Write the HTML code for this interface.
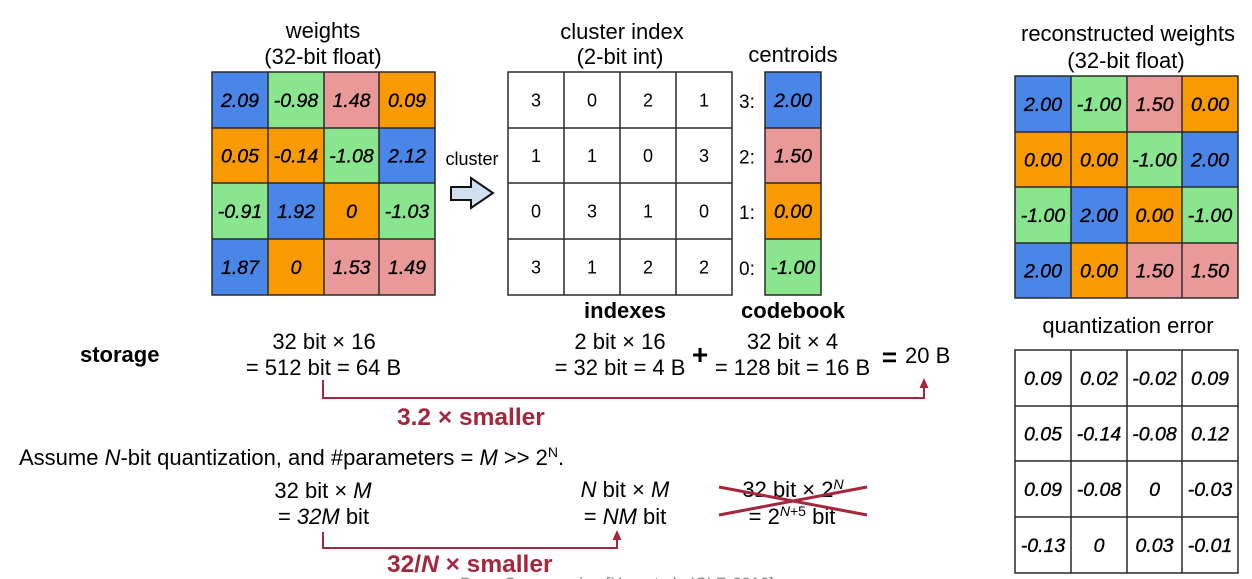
<!DOCTYPE html>
<html><head><meta charset="utf-8"><style>
html,body{margin:0;padding:0;background:#fff;}
svg{display:block;font-family:"Liberation Sans",Arial,sans-serif;}
.t{font-size:22px;fill:#000;}
.c{font-size:19.5px;font-style:italic;fill:#000;stroke:#000;stroke-width:0.35px;text-anchor:middle;}
.i{font-size:18px;fill:#000;text-anchor:middle;}
.m{text-anchor:middle;}
.b{font-weight:bold;}
.r{fill:#a3273d;}
.g{fill:none;stroke:#2a2a2a;stroke-width:1.5;}
</style></head><body>
<svg width="1252" height="579" viewBox="0 0 1252 579" xmlns="http://www.w3.org/2000/svg">
<!-- titles -->
<text class="t m" x="323" y="38">weights</text>
<text class="t m" x="323" y="64">(32-bit float)</text>
<text class="t m" x="622" y="39">cluster index</text>
<text class="t m" x="620" y="64">(2-bit int)</text>
<text class="t m" x="793" y="62">centroids</text>
<text class="t m" x="1128" y="41">reconstructed weights</text>
<text class="t m" x="1126" y="68">(32-bit float)</text>
<text class="t m" x="1128" y="333">quantization error</text>

<!-- weights grid -->
<g>
<rect x="212" y="72" width="56" height="56" fill="#4a86e8"/><rect x="268" y="72" width="56" height="56" fill="#8ae68e"/><rect x="324" y="72" width="55" height="56" fill="#ea9999"/><rect x="379" y="72" width="56" height="56" fill="#f99b00"/>
<rect x="212" y="128" width="56" height="55" fill="#f99b00"/><rect x="268" y="128" width="56" height="55" fill="#f99b00"/><rect x="324" y="128" width="55" height="55" fill="#8ae68e"/><rect x="379" y="128" width="56" height="55" fill="#4a86e8"/>
<rect x="212" y="183" width="56" height="56" fill="#8ae68e"/><rect x="268" y="183" width="56" height="56" fill="#4a86e8"/><rect x="324" y="183" width="55" height="56" fill="#f99b00"/><rect x="379" y="183" width="56" height="56" fill="#8ae68e"/>
<rect x="212" y="239" width="56" height="56" fill="#4a86e8"/><rect x="268" y="239" width="56" height="56" fill="#f99b00"/><rect x="324" y="239" width="55" height="56" fill="#ea9999"/><rect x="379" y="239" width="56" height="56" fill="#ea9999"/>
<path class="g" d="M212 72H435V295H212Z M268 72V295 M324 72V295 M379 72V295 M212 128H435 M212 183H435 M212 239H435"/>
<text class="c" x="240" y="107">2.09</text><text class="c" x="296" y="107">-0.98</text><text class="c" x="351.5" y="107">1.48</text><text class="c" x="407" y="107">0.09</text>
<text class="c" x="240" y="162.5">0.05</text><text class="c" x="296" y="162.5">-0.14</text><text class="c" x="351.5" y="162.5">-1.08</text><text class="c" x="407" y="162.5">2.12</text>
<text class="c" x="240" y="218">-0.91</text><text class="c" x="296" y="218">1.92</text><text class="c" x="351.5" y="218">0</text><text class="c" x="407" y="218">-1.03</text>
<text class="c" x="240" y="274">1.87</text><text class="c" x="296" y="274">0</text><text class="c" x="351.5" y="274">1.53</text><text class="c" x="407" y="274">1.49</text>
</g>

<!-- cluster arrow -->
<text x="472" y="165" style="font-size:18px;text-anchor:middle">cluster</text>
<polygon points="451,187 471,187 471,178 493,193 471,208 471,200 451,200" fill="#d0e0f0" stroke="#111" stroke-width="2" stroke-linejoin="miter"/>

<!-- cluster index grid -->
<path class="g" d="M508 72H732V295H508Z M564 72V295 M620 72V295 M676 72V295 M508 128H732 M508 183H732 M508 239H732"/>
<text class="i" x="536" y="106.5">3</text><text class="i" x="592" y="106.5">0</text><text class="i" x="648" y="106.5">2</text><text class="i" x="704" y="106.5">1</text>
<text class="i" x="536" y="162">1</text><text class="i" x="592" y="162">1</text><text class="i" x="648" y="162">0</text><text class="i" x="704" y="162">3</text>
<text class="i" x="536" y="217.5">0</text><text class="i" x="592" y="217.5">3</text><text class="i" x="648" y="217.5">1</text><text class="i" x="704" y="217.5">0</text>
<text class="i" x="536" y="273.5">3</text><text class="i" x="592" y="273.5">1</text><text class="i" x="648" y="273.5">2</text><text class="i" x="704" y="273.5">2</text>

<!-- centroids -->
<rect x="765" y="72" width="56" height="56" fill="#4a86e8"/>
<rect x="765" y="128" width="56" height="55" fill="#ea9999"/>
<rect x="765" y="183" width="56" height="56" fill="#f99b00"/>
<rect x="765" y="239" width="56" height="56" fill="#8ae68e"/>
<path class="g" d="M765 72H821V295H765Z M765 128H821 M765 183H821 M765 239H821"/>
<text class="c" x="793" y="107">2.00</text>
<text class="c" x="793" y="162.5">1.50</text>
<text class="c" x="793" y="218">0.00</text>
<text class="c" x="793" y="274">-1.00</text>
<text x="739" y="108" style="font-size:19px">3:</text>
<text x="739" y="163.5" style="font-size:19px">2:</text>
<text x="739" y="219" style="font-size:19px">1:</text>
<text x="739" y="275" style="font-size:19px">0:</text>

<text class="t m b" x="625" y="318">indexes</text>
<text class="t m b" x="793" y="318">codebook</text>

<!-- reconstructed grid -->
<g>
<rect x="1015" y="76" width="56" height="56" fill="#4a86e8"/><rect x="1071" y="76" width="56" height="56" fill="#8ae68e"/><rect x="1127" y="76" width="55" height="56" fill="#ea9999"/><rect x="1182" y="76" width="56" height="56" fill="#f99b00"/>
<rect x="1015" y="132" width="56" height="55" fill="#f99b00"/><rect x="1071" y="132" width="56" height="55" fill="#f99b00"/><rect x="1127" y="132" width="55" height="55" fill="#8ae68e"/><rect x="1182" y="132" width="56" height="55" fill="#4a86e8"/>
<rect x="1015" y="187" width="56" height="56" fill="#8ae68e"/><rect x="1071" y="187" width="56" height="56" fill="#4a86e8"/><rect x="1127" y="187" width="55" height="56" fill="#f99b00"/><rect x="1182" y="187" width="56" height="56" fill="#8ae68e"/>
<rect x="1015" y="243" width="56" height="55" fill="#4a86e8"/><rect x="1071" y="243" width="56" height="55" fill="#f99b00"/><rect x="1127" y="243" width="55" height="55" fill="#ea9999"/><rect x="1182" y="243" width="56" height="55" fill="#ea9999"/>
<path class="g" d="M1015 76H1238V298H1015Z M1071 76V298 M1127 76V298 M1182 76V298 M1015 132H1238 M1015 187H1238 M1015 243H1238"/>
<text class="c" x="1043" y="111">2.00</text><text class="c" x="1099" y="111">-1.00</text><text class="c" x="1154.5" y="111">1.50</text><text class="c" x="1210" y="111">0.00</text>
<text class="c" x="1043" y="166.5">0.00</text><text class="c" x="1099" y="166.5">0.00</text><text class="c" x="1154.5" y="166.5">-1.00</text><text class="c" x="1210" y="166.5">2.00</text>
<text class="c" x="1043" y="222">-1.00</text><text class="c" x="1099" y="222">2.00</text><text class="c" x="1154.5" y="222">0.00</text><text class="c" x="1210" y="222">-1.00</text>
<text class="c" x="1043" y="277.5">2.00</text><text class="c" x="1099" y="277.5">0.00</text><text class="c" x="1154.5" y="277.5">1.50</text><text class="c" x="1210" y="277.5">1.50</text>
</g>

<!-- quantization error grid -->
<path class="g" d="M1015 350H1238V573H1015Z M1071 350V573 M1127 350V573 M1182 350V573 M1015 406H1238 M1015 461H1238 M1015 517H1238"/>
<text class="c" x="1043" y="385">0.09</text><text class="c" x="1099" y="385">0.02</text><text class="c" x="1154.5" y="385">-0.02</text><text class="c" x="1210" y="385">0.09</text>
<text class="c" x="1043" y="440.5">0.05</text><text class="c" x="1099" y="440.5">-0.14</text><text class="c" x="1154.5" y="440.5">-0.08</text><text class="c" x="1210" y="440.5">0.12</text>
<text class="c" x="1043" y="496">0.09</text><text class="c" x="1099" y="496">-0.08</text><text class="c" x="1154.5" y="496">0</text><text class="c" x="1210" y="496">-0.03</text>
<text class="c" x="1043" y="552">-0.13</text><text class="c" x="1099" y="552">0</text><text class="c" x="1154.5" y="552">0.03</text><text class="c" x="1210" y="552">-0.01</text>

<!-- storage -->
<text class="t b" x="80" y="362">storage</text>
<text class="t m" x="324" y="349">32 bit × 16</text>
<text class="t m" x="323.5" y="375">= 512 bit = 64 B</text>
<text class="t m" x="620" y="349">2 bit × 16</text>
<text class="t m" x="620" y="375">= 32 bit = 4 B</text>
<text class="b m" x="700" y="364" style="font-size:28px">+</text>
<text class="t m" x="792.5" y="349">32 bit × 4</text>
<text class="t m" x="792.5" y="375">= 128 bit = 16 B</text>
<text class="b m" x="889.5" y="366" style="font-size:26px">=</text>
<text class="t" x="905" y="363">20 B</text>

<!-- red arrow 1 -->
<path d="M323 380V398H924V386" fill="none" stroke="#a3273d" stroke-width="2"/>
<polygon points="919.5,388 928.5,388 924,378" fill="#a3273d"/>
<text class="b r" x="397" y="425" style="font-size:24.5px">3.2 × smaller</text>

<!-- bottom section -->
<text class="t" x="19" y="465">Assume <tspan font-style="italic">N</tspan>-bit quantization, and #parameters = <tspan font-style="italic">M</tspan> &gt;&gt; 2<tspan font-size="14" dy="-8">N</tspan><tspan dy="8">.</tspan></text>
<text class="t m" x="323" y="498">32 bit × <tspan font-style="italic">M</tspan></text>
<text class="t m" x="323.5" y="524">= <tspan font-style="italic">32M</tspan> bit</text>
<text class="t m" x="625" y="497"><tspan font-style="italic">N</tspan> bit × <tspan font-style="italic">M</tspan></text>
<text class="t m" x="625" y="524">= <tspan font-style="italic">NM</tspan> bit</text>
<text class="t m" x="793" y="497">32 bit × 2<tspan font-size="14" dy="-8" font-style="italic">N</tspan></text>
<text class="t m" x="792" y="524">= 2<tspan font-size="14" dy="-8"><tspan font-style="italic">N</tspan>+5</tspan><tspan dy="8"> bit</tspan></text>
<path d="M719 487L867 515 M719 515L867 487" stroke="#a3273d" stroke-width="3" fill="none"/>

<!-- red arrow 2 -->
<path d="M323 532V548H617V538" fill="none" stroke="#a3273d" stroke-width="2"/>
<polygon points="612.5,540 621.5,540 617,530" fill="#a3273d"/>
<text class="b r" x="387" y="572" style="font-size:24.5px">32/<tspan font-style="italic">N</tspan> × smaller</text>

<!-- cut-off footnote -->
<text x="460" y="589" style="font-size:16.5px;fill:#888">Deep Compression [Han et al., ICLR 2016]</text>
</svg>
</body></html>
